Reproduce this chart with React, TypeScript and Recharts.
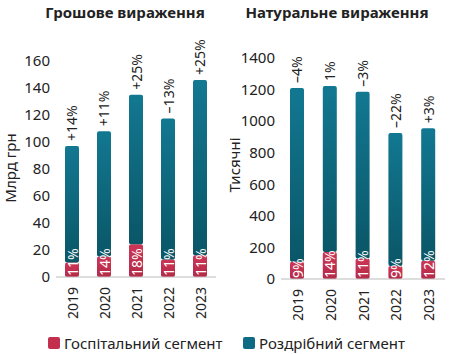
import React from "react"
import { BarChart, Bar, XAxis, YAxis, LabelList } from "recharts"

const years = ["2019", "2020", "2021", "2022", "2023"]

// грошове вираження, млрд грн
const moneyHospital = [10.7, 15.1, 24.3, 12.9, 16.1]
const moneyRetail = [86.3, 92.9, 110.7, 104.6, 129.9]
const moneyShare = ["11%", "14%", "18%", "11%", "11%"]
const moneyChange = ["+14%", "+11%", "+25%", "–13%", "+25%"]
const moneyTicks = [0, 20, 40, 60, 80, 100, 120, 140, 160]

// натуральне вираження, тисячі упаковок
const unitsHospital = [109, 171, 130, 83, 115]
const unitsRetail = [1101, 1051, 1056, 842, 840]
const unitsShare = ["9%", "14%", "11%", "9%", "12%"]
const unitsChange = ["–4%", "1%", "–3%", "–22%", "+3%"]
const unitsTicks = [0, 200, 400, 600, 800, 1000, 1200, 1400]

const FONT = "'Noto Sans', sans-serif"
const RED = "#c3304e"
const TEAL = "#0d6c83"

const moneyData = years.map((y, i) => ({
  year: y,
  hosp: moneyHospital[i],
  retail: moneyRetail[i],
}))

const unitsData = years.map((y, i) => ({
  year: y,
  hosp: unitsHospital[i],
  retail: unitsRetail[i],
}))

function YearTick({ x, y, payload }: any) {
  return (
    <text
      x={x}
      y={y + 8}
      transform={`rotate(-90 ${x} ${y + 8})`}
      textAnchor="end"
      dominantBaseline="central"
      fontSize={14}
      fontFamily={FONT}
      fill="#222"
    >
      {payload.value}
    </text>
  )
}

function makeTopLabel(items: string[]) {
  return (props: any) => {
    const { x, y, width, index } = props
    const cx = x + width / 2
    const ty = y - 5
    return (
      <text
        x={cx}
        y={ty}
        transform={`rotate(-90 ${cx} ${ty})`}
        textAnchor="start"
        dominantBaseline="central"
        fontSize={14}
        fontFamily={FONT}
        fill="#222"
      >
        {items[index]}
      </text>
    )
  }
}

function makeShareLabel(items: string[]) {
  return (props: any) => {
    const { x, y, width, height, index } = props
    const cx = x + width / 2
    const ty = y + height - 1
    return (
      <text
        x={cx}
        y={ty}
        transform={`rotate(-90 ${cx} ${ty})`}
        textAnchor="start"
        dominantBaseline="central"
        fontSize={14}
        fontFamily={FONT}
        fill="#fff"
      >
        {items[index]}
      </text>
    )
  }
}

function Grads({ id }: { id: string }) {
  return (
    <defs>
      <linearGradient id={`teal-${id}`} x1="0" y1="0" x2="0" y2="1">
        <stop offset="0%" stopColor="#127891" />
        <stop offset="100%" stopColor="#0a5667" />
      </linearGradient>
      <linearGradient id={`red-${id}`} x1="0" y1="0" x2="0" y2="1">
        <stop offset="0%" stopColor="#cc3656" />
        <stop offset="100%" stopColor="#b42a48" />
      </linearGradient>
    </defs>
  )
}

const tickStyle = { fontSize: 15, fontFamily: FONT, fill: "#222" }

export default function App() {
  return (
    <div
      style={{
        position: "absolute",
        left: 0,
        top: 0,
        width: 449,
        height: 354,
        background: "#fff",
        fontFamily: FONT,
        color: "#222",
      }}
    >
      <div style={{ position: "absolute", left: 0, width: 250, top: 2, textAlign: "center", fontWeight: 700, fontSize: 15 }}>
        Грошове вираження
      </div>
      <div style={{ position: "absolute", left: 225, width: 224, top: 2, textAlign: "center", fontWeight: 700, fontSize: 15 }}>
        Натуральне вираження
      </div>

      <div style={{ position: "absolute", left: 0, top: 0 }}>
        <BarChart width={225} height={330} data={moneyData} margin={{ top: 61, right: 9, left: 0, bottom: 6 }}>
          <Grads id="m" />
          <XAxis dataKey="year" height={47} interval={0} tick={<YearTick />} tickLine={false} tickSize={0} axisLine={{ stroke: "#bbb" }} />
          <YAxis
            width={56}
            domain={[0, 160]}
            ticks={moneyTicks}
            tickLine={false}
            axisLine={false}
            tickSize={0}
            tickMargin={6}
            tick={tickStyle}
            interval={0}
          />
          <Bar dataKey="hosp" stackId="a" fill="url(#red-m)" barSize={14} radius={2} isAnimationActive={false}>
            <LabelList dataKey="hosp" content={makeShareLabel(moneyShare)} />
          </Bar>
          <Bar dataKey="retail" stackId="a" fill="url(#teal-m)" barSize={14} radius={2} isAnimationActive={false}>
            <LabelList dataKey="retail" content={makeTopLabel(moneyChange)} />
          </Bar>
        </BarChart>
      </div>

      <div style={{ position: "absolute", left: 225, top: 0 }}>
        <BarChart width={224} height={330} data={unitsData} margin={{ top: 58, right: 4, left: 0, bottom: 4 }}>
          <Grads id="u" />
          <XAxis dataKey="year" height={47} interval={0} tick={<YearTick />} tickLine={false} tickSize={0} axisLine={{ stroke: "#bbb" }} />
          <YAxis
            width={56}
            domain={[0, 1400]}
            ticks={unitsTicks}
            tickLine={false}
            axisLine={false}
            tickSize={0}
            tickMargin={6}
            tick={tickStyle}
            interval={0}
          />
          <Bar dataKey="hosp" stackId="a" fill="url(#red-u)" barSize={14} radius={2} isAnimationActive={false}>
            <LabelList dataKey="hosp" content={makeShareLabel(unitsShare)} />
          </Bar>
          <Bar dataKey="retail" stackId="a" fill="url(#teal-u)" barSize={14} radius={2} isAnimationActive={false}>
            <LabelList dataKey="retail" content={makeTopLabel(unitsChange)} />
          </Bar>
        </BarChart>
      </div>

      <div
        style={{
          position: "absolute",
          left: 10,
          top: 168,
          transform: "translate(-50%, -50%) rotate(-90deg)",
          fontSize: 15,
          whiteSpace: "nowrap",
        }}
      >
        Млрд грн
      </div>
      <div
        style={{
          position: "absolute",
          left: 234,
          top: 165,
          transform: "translate(-50%, -50%) rotate(-90deg)",
          fontSize: 15,
          whiteSpace: "nowrap",
        }}
      >
        Тисячні
      </div>

      <div style={{ position: "absolute", left: 48, top: 333, display: "flex", alignItems: "center", fontSize: 15, whiteSpace: "nowrap" }}>
        <span style={{ width: 12, height: 12, background: RED, borderRadius: 2, marginRight: 4 }} />
        Госпітальний сегмент
      </div>
      <div style={{ position: "absolute", left: 243, top: 333, display: "flex", alignItems: "center", fontSize: 15, whiteSpace: "nowrap" }}>
        <span style={{ width: 12, height: 12, background: TEAL, borderRadius: 2, marginRight: 4 }} />
        Роздрібний сегмент
      </div>
    </div>
  )
}
